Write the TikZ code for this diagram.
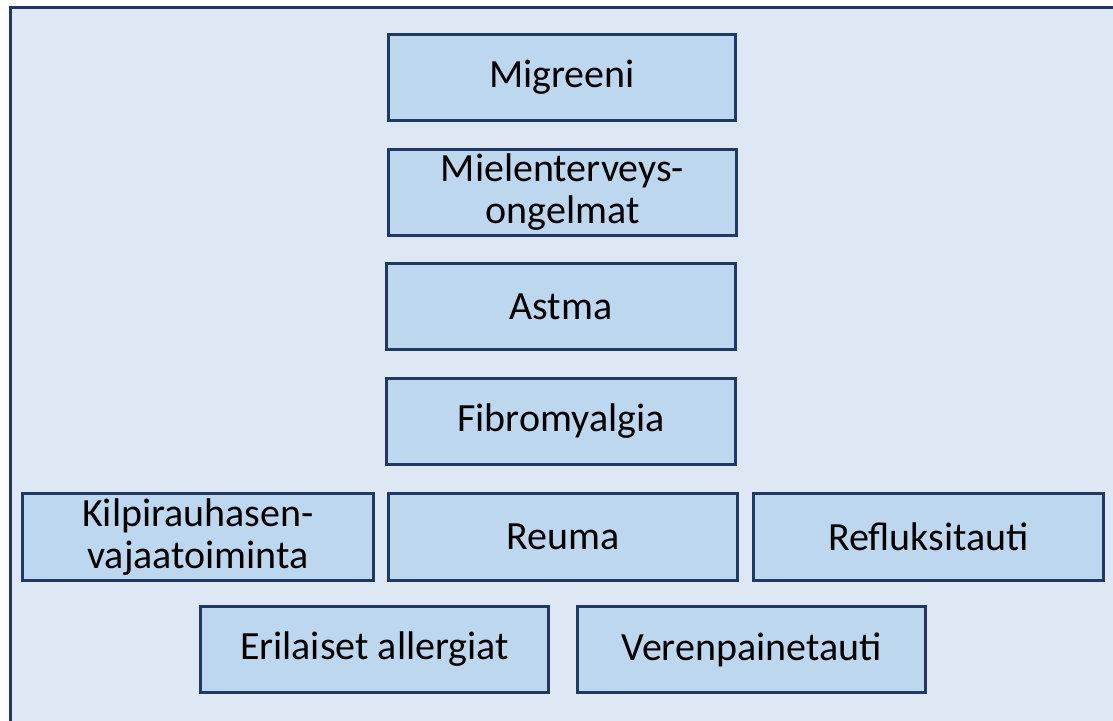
\documentclass[tikz,border=0pt]{standalone}
\usepackage{fontspec}
\setmainfont{Carlito}
\definecolor{bgblue}{HTML}{DEE8F5}
\definecolor{boxblue}{HTML}{BDD7EE}
\definecolor{navy}{HTML}{1F3864}
\begin{document}
\begin{tikzpicture}[x=0.5pt,y=-0.5pt,
  item/.style={draw=navy, line width=1.4pt, fill=boxblue, align=center,
    font=\fontsize{20}{21}\selectfont, text=black, inner sep=0pt}]
\useasboundingbox (0,0) rectangle (1113,720);
\begin{scope}
\clip (0,0) rectangle (1113,720);
\fill[white] (0,0) rectangle (1113,720);
\draw[draw=navy, line width=1.8pt, fill=bgblue] (10.5,7.5) rectangle (1116,726);
\end{scope}
\newcommand{\itembox}[6]{%
  \node[item, minimum width=#4*0.5pt-1.4pt, minimum height=#5*0.5pt-1.4pt] (#1) at ({(#2+#4/2)},{(#3+#5/2)}) {#6};}
\itembox{migreeni}{387}{33}{350}{89}{Migreeni}
\itembox{mielen}{387}{148}{351}{89}{Mielenterveys-\\ongelmat}
\itembox{astma}{385}{262}{352}{89}{Astma}
\itembox{fibro}{385}{377}{352}{89}{Fibromyalgia}
\itembox{kilpi}{21}{492}{354}{90}{Kilpirauhasen-\\vajaatoiminta}
\itembox{reuma}{387}{492}{352}{90}{Reuma}
\itembox{reflu}{752}{492}{353}{90}{Refluksitauti}
\itembox{eril}{199}{605}{351}{89}{Erilaiset allergiat}
\itembox{veren}{576}{605}{351}{89}{Verenpainetauti}
\end{tikzpicture}
\end{document}
